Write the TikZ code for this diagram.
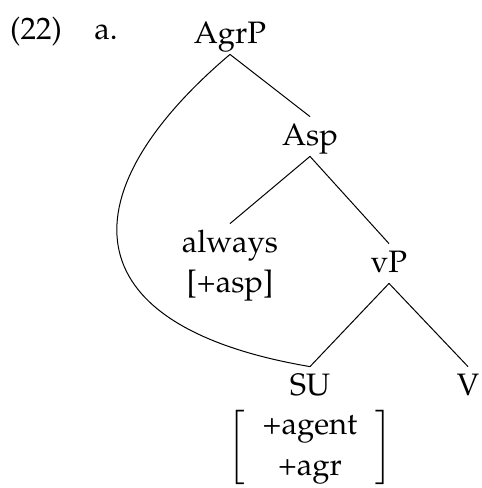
\documentclass[tikz,border=0pt]{standalone}
\usepackage[T1]{fontenc}
\usepackage{mathpazo}
\usepackage{amsmath}
\usetikzlibrary{positioning}

\begin{document}
\begin{tikzpicture}[
  x=0.5pt, y=-0.5pt,
  exlabel/.style={anchor=base, font=\fontsize{15.5}{20.5}\selectfont, inner sep=0pt},
  catnode/.style={anchor=base, font=\fontsize{15.5}{20.5}\selectfont, text height=11pt, text depth=2.5pt, inner xsep=2pt, inner ysep=3pt},
  feature/.style={font=\fontsize{15.5}{20.5}\selectfont, inner sep=0pt},
  branch/.style={line width=0.5pt},
  movement/.style={line width=0.5pt}
]
  \useasboundingbox (0,0) rectangle (482,488);

  % Example number
  \node[exlabel] (exnum) at (36,39) {(22)};
  \node[exlabel] (exsub) at (106,39) {a.};

  % Tree nodes
  \node[catnode] (agrp) at (230,43) {AgrP};
  \node[catnode] (asp) at (310,145) {Asp};
  \node[catnode] (always) at (230,252) {always};
  \node[catnode] (vp) at (389,272) {vP};
  \node[catnode] (su) at (310,395) {SU};
  \node[catnode] (v) at (468,395) {V};

  % Features
  \node[feature, anchor=base] (aspfeat) at (230,292) {[+asp]};
  \node[feature] (sufeat) at (310,447)
    {$\left[\ \begin{array}{c}\text{+agent}\\ \text{+agr}\end{array}\ \right]$};

  % Branches
  \draw[branch] (agrp.south) -- (asp.north);
  \draw[branch] (asp.south) -- (always.north);
  \draw[branch] (asp.south) -- (vp.north);
  \draw[branch] (vp.south) -- (su.north);
  \draw[branch] (vp.south) -- (v.north);

  % Movement line
  \draw[movement] (agrp.south) .. controls (70,190) and (65,325) .. (su.north);
\end{tikzpicture}
\end{document}
